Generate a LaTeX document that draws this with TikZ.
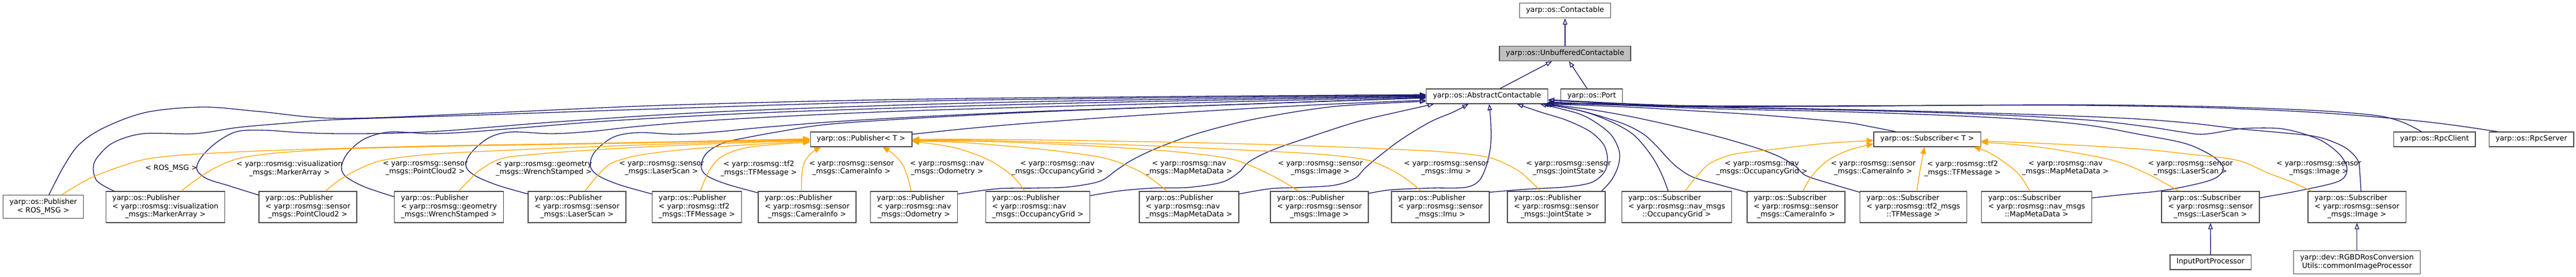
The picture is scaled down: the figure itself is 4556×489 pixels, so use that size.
\documentclass[tikz,border=0pt]{standalone}
\usepackage{fontspec}
\setmainfont{DejaVu Sans}
\usepackage{tikz}
\usetikzlibrary{arrows.meta}
\definecolor{inhblue}{HTML}{191970}
\definecolor{tplorange}{HTML}{FFA500}
\newcommand{\clsA}[1]{\begin{tabular}{@{}c@{}}#1\end{tabular}}
\newcommand{\clsB}[2]{\begin{tabular}{@{}l@{}}#1\\\multicolumn{1}{@{}c@{}}{#2}\end{tabular}}
\newcommand{\clsC}[3]{\begin{tabular}{@{}l@{}}#1\\#2\\\multicolumn{1}{@{}c@{}}{#3}\end{tabular}}
\def\pubname{yarp::os::Publisher}
\def\subname{yarp::os::Subscriber}

\begin{document}
\begin{tikzpicture}[x=1pt,y=-1pt,
		cls/.style={draw=black!70,line width=1.3pt,fill=white,inner xsep=11.5pt,inner ysep=5.75pt,font=\fontsize{12.8}{14.5}\selectfont},
		lbl/.style={inner sep=0pt,align=center,font=\fontsize{12.8}{14.5}\selectfont},
		inh/.style={inhblue,line width=1.3pt,-{Triangle[open,length=11pt,width=8pt]}},
		tpl/.style={tplorange,line width=1.3pt,-{Triangle[length=12pt,width=10pt]}}]
			%%%%% START %%%%%
			\fill[white] (0,0) rectangle (4556,489);
			\useasboundingbox (0,0) rectangle (4556,489);
			
			% upper classes
			\node[cls] (contact) at (2768,18.7) {\clsA{yarp::os::Contactable}};
			\node[cls,fill=black!25] (unbuf) at (2768,94.5) {\clsA{yarp::os::UnbufferedContactable}};
			\node[cls] (ac) at (2630,170) {\clsA{yarp::os::AbstractContactable}};
			\node[cls] (port) at (2815,170) {\clsA{yarp::os::Port}};
			\node[cls] (pubt) at (1523,246) {\clsA{yarp::os::Publisher< T >}};
			\node[cls] (subt) at (3408.6,246) {\clsA{yarp::os::Subscriber< T >}};
			\node[cls] (rpcclient) at (4305.7,246) {\clsA{yarp::os::RpcClient}};
			\node[cls] (rpcserver) at (4477,246) {\clsA{yarp::os::RpcServer}};
			
			% publishers
			\node[cls] (pubros) at (76.5,365) {\clsB{\pubname}{< ROS\_MSG >}};
			\node[cls] (pubmarker) at (292.5,365.5) {\clsC{\pubname}{< yarp::rosmsg::visualization}{\_msgs::MarkerArray >}};
			\node[cls] (pubpc2) at (544.5,365.5) {\clsC{\pubname}{< yarp::rosmsg::sensor}{\_msgs::PointCloud2 >}};
			\node[cls] (pubwrench) at (794,365.5) {\clsC{\pubname}{< yarp::rosmsg::geometry}{\_msgs::WrenchStamped >}};
			\node[cls] (publaser) at (1020.5,365.5) {\clsC{\pubname}{< yarp::rosmsg::sensor}{\_msgs::LaserScan >}};
			\node[cls] (pubtf) at (1232.5,365.5) {\clsC{\pubname}{< yarp::rosmsg::tf2}{\_msgs::TFMessage >}};
			\node[cls] (pubcam) at (1427.5,365.5) {\clsC{\pubname}{< yarp::rosmsg::sensor}{\_msgs::CameraInfo >}};
			\node[cls] (pubodom) at (1616.5,365.5) {\clsC{\pubname}{< yarp::rosmsg::nav}{\_msgs::Odometry >}};
			\node[cls] (pubocc) at (1835.5,365.5) {\clsC{\pubname}{< yarp::rosmsg::nav}{\_msgs::OccupancyGrid >}};
			\node[cls] (pubmap) at (2103,365.5) {\clsC{\pubname}{< yarp::rosmsg::nav}{\_msgs::MapMetaData >}};
			\node[cls] (pubimage) at (2333.6,365.5) {\clsC{\pubname}{< yarp::rosmsg::sensor}{\_msgs::Image >}};
			\node[cls] (pubimu) at (2547.5,365.5) {\clsC{\pubname}{< yarp::rosmsg::sensor}{\_msgs::Imu >}};
			\node[cls] (pubjoint) at (2752.5,365.5) {\clsC{\pubname}{< yarp::rosmsg::sensor}{\_msgs::JointState >}};
			
			% subscribers
			\node[cls] (subocc) at (2965.5,365.5) {\clsC{\subname}{< yarp::rosmsg::nav\_msgs}{::OccupancyGrid >}};
			\node[cls] (subcam) at (3176.6,365.5) {\clsC{\subname}{< yarp::rosmsg::sensor}{\_msgs::CameraInfo >}};
			\node[cls] (subtf) at (3384,365.5) {\clsC{\subname}{< yarp::rosmsg::tf2\_msgs}{::TFMessage >}};
			\node[cls] (submap) at (3602,365.5) {\clsC{\subname}{< yarp::rosmsg::nav\_msgs}{::MapMetaData >}};
			\node[cls] (sublaser) at (3909.5,365.5) {\clsC{\subname}{< yarp::rosmsg::sensor}{\_msgs::LaserScan >}};
			\node[cls] (subimage) at (4168.6,365.5) {\clsC{\subname}{< yarp::rosmsg::sensor}{\_msgs::Image >}};
			
			% lowest row
			\node[cls] (inproc) at (3909.6,463) {\clsA{InputPortProcessor}};
			\node[cls] (imgproc) at (4168.6,463) {\clsB{yarp::dev::RGBDRosConversion}{Utils::commonImageProcessor}};
			
			% template labels
			\node[lbl] (lros) at (303,297.5) {< ROS\_MSG >};
			\node[lbl] (lmarker) at (512,297.5) {< yarp::rosmsg::visualization\\\_msgs::MarkerArray >};
			\node[lbl] (lpc2) at (752,297.5) {< yarp::rosmsg::sensor\\\_msgs::PointCloud2 >};
			\node[lbl] (lwrench) at (962,297.5) {< yarp::rosmsg::geometry\\\_msgs::WrenchStamped >};
			\node[lbl] (llaser) at (1170,297.5) {< yarp::rosmsg::sensor\\\_msgs::LaserScan >};
			\node[lbl] (ltf) at (1342,297.5) {< yarp::rosmsg::tf2\\\_msgs::TFMessage >};
			\node[lbl] (lcam) at (1506,297.5) {< yarp::rosmsg::sensor\\\_msgs::CameraInfo >};
			\node[lbl] (lodom) at (1675,297.5) {< yarp::rosmsg::nav\\\_msgs::Odometry >};
			\node[lbl] (locc) at (1870,297.5) {< yarp::rosmsg::nav\\\_msgs::OccupancyGrid >};
			\node[lbl] (lmap) at (2103,297.5) {< yarp::rosmsg::nav\\\_msgs::MapMetaData >};
			\node[lbl] (limage) at (2335,297.5) {< yarp::rosmsg::sensor\\\_msgs::Image >};
			\node[lbl] (limu) at (2558,297.5) {< yarp::rosmsg::sensor\\\_msgs::Imu >};
			\node[lbl] (ljoint) at (2774,297.5) {< yarp::rosmsg::sensor\\\_msgs::JointState >};
			\node[lbl] (lsocc) at (3116,297.5) {< yarp::rosmsg::nav\\\_msgs::OccupancyGrid >};
			\node[lbl] (lscam) at (3313,297.5) {< yarp::rosmsg::sensor\\\_msgs::CameraInfo >};
			\node[lbl] (lstf) at (3471,297.5) {< yarp::rosmsg::tf2\\\_msgs::TFMessage >};
			\node[lbl] (lsmap) at (3653,297.5) {< yarp::rosmsg::nav\\\_msgs::MapMetaData >};
			\node[lbl] (lslaser) at (3874,297.5) {< yarp::rosmsg::sensor\\\_msgs::LaserScan >};
			\node[lbl] (lsimage) at (4101,297.5) {< yarp::rosmsg::sensor\\\_msgs::Image >};
			
			% straight inheritance
			\draw[inh] (unbuf) -- (contact);
			\draw[inh] ([xshift=23pt]ac.north) -- ([xshift=-23pt]unbuf.south);
			\draw[inh] ([xshift=-8pt]port.north) -- ([xshift=7pt]unbuf.south);
			\draw[inh] (inproc) -- (sublaser);
			\draw[inh] (imgproc) -- (subimage);
			
			% inheritance into the left side of AbstractContactable
			\draw[inh] plot[smooth,tension=.55] coordinates {([xshift=10pt]pubros.north) (112,295) (140,255) (185,225) (260,198) (360,189) (460,197) (600,209) (850,200) (1200,185) (1700,174) ([yshift=3pt]ac.west)};
			\draw[inh] plot[smooth,tension=.55] coordinates {([xshift=15pt]pubmarker.north west) (172,320) (165,297) (172,278) (200,252) (253,236) (344,236) (421,225) (500,218) (600,211) (850,203) (1200,191) (1700,177) ([yshift=2pt]ac.west)};
			\draw[inh] plot[smooth,tension=.55] coordinates {([yshift=-7pt]pubpc2.north west) (405,328) (365,315) (348,298) (358,275) (385,250) (420,232) (470,230) (530,234) (600,236) (700,235) (800,230) (1000,214) (1300,196) (1800,180) ([yshift=1pt]ac.west)};
			\draw[inh] plot[smooth,tension=.55] coordinates {([yshift=-10pt]pubwrench.north west) (645,330) (612,312) (604,295) (615,270) (645,245) (690,233) (760,236) (830,233) (930,225) (1100,212) (1400,197) (1900,182) (ac.west)};
			\draw[inh] plot[smooth,tension=.55] coordinates {([yshift=-5pt]publaser.north west) (880,327) (840,310) (824,293) (833,270) (865,243) (905,233) (975,236) (1045,232) (1140,222) (1300,210) (1600,196) (2050,183) ([yshift=-1pt]ac.west)};
			\draw[inh] plot[smooth,tension=.55] coordinates {([yshift=-5pt]pubtf.north west) (1095,326) (1058,310) (1044,293) (1052,268) (1085,242) (1130,234) (1195,237) (1265,233) (1360,224) (1520,212) (1800,198) (2200,184) ([yshift=-2pt]ac.west)};
			\draw[inh] plot[smooth,tension=.55] coordinates {([yshift=-3pt]pubcam.north west) (1285,325) (1250,310) (1240,293) (1250,270) (1280,252) (1320,243) (1380,232) (1460,220) (1600,210) (1850,197) (2200,184) ([yshift=-3pt]ac.west)};
			\draw[inh] plot[smooth,tension=.55] coordinates {([yshift=9pt]pubt.east) (1700,228) (1800,219) (1950,208) (2150,195) (2350,184) ([yshift=-7pt]ac.west)};
			\draw[inh] plot[smooth,tension=.55] coordinates {([yshift=-5pt]pubodom.north east) (1766,333) (1830,332) (1890,330) (1945,320) (1975,300) (2003,282) (2050,260) (2120,235) (2220,210) (2360,188) ([yshift=-9pt]ac.west)};
			
			% inheritance into the bottom of AbstractContactable
			\draw[inh] plot[smooth,tension=.55] coordinates {([yshift=-8pt]pubocc.north east) (1980,337) (2040,332) (2100,331) (2160,322) (2190,305) (2210,285) (2250,265) (2310,244) (2400,215) (2480,196) ([xshift=14pt]ac.south west)};
			\draw[inh] plot[smooth,tension=.55] coordinates {([yshift=-5pt]pubmap.north east) (2248,333) (2300,331) (2360,327) (2396,315) (2415,296) (2440,275) (2480,245) (2530,215) (2570,198) ([xshift=75pt]ac.south west)};
			\draw[inh] plot[smooth,tension=.55] coordinates {([yshift=-4pt]pubimage.north east) (2461,335) (2530,332) (2590,331) (2615,320) (2628,295) (2636,260) (2637,225) ([xshift=4pt]ac.south)};
			\draw[inh] plot[smooth,tension=.55] coordinates {([yshift=-2pt]pubimu.north east) (2700,334) (2770,330) (2815,322) (2838,303) (2843,280) (2836,255) (2812,232) (2770,212) (2725,198) ([xshift=53pt]ac.south)};
			\draw[inh] plot[smooth,tension=.55] coordinates {([xshift=-7pt]pubjoint.north east) (2850,318) (2862,293) (2864,268) (2851,240) (2825,218) (2790,200) ([xshift=-14pt]ac.south east)};
			\draw[inh] plot[smooth,tension=.55] coordinates {([xshift=-15pt]subocc.north) (2940,310) (2926,283) (2908,258) (2888,237) (2860,220) (2820,203) (2780,192) ([xshift=-10pt]ac.south east)};
			\draw[inh] plot[smooth,tension=.55] coordinates {([yshift=-2pt]subcam.north west) (3040,326) (2995,313) (2970,298) (2953,283) (2930,258) (2907,237) (2875,220) (2830,205) (2785,193) ([xshift=-6pt]ac.south east)};
			\draw[inh] plot[smooth,tension=.55] coordinates {([yshift=-2pt]subtf.north west) (3240,325) (3194,310) (3175,293) (3150,278) (3118,265) (3070,250) (3022,237) (2950,220) (2880,205) (2810,193) ([xshift=-3pt]ac.south east)};
			\draw[inh] plot[smooth,tension=.55] coordinates {([xshift=-56pt]subt.north) (3310,224) (3271,217) (3200,210) (3100,202) (3000,196) (2900,190) (2810,186) (ac.south east)};
			
			% inheritance from the far right
			\draw[inh] plot[smooth,tension=.55] coordinates {([yshift=-12pt]submap.north east) (3760,343) (3821,337) (3880,326) (3917,315) (3932,300) (3925,285) (3900,268) (3860,252) (3783,237) (3700,222) (3600,212) (3450,204) (3250,197) (3000,191) ([yshift=-10pt]ac.east)};
			\draw[inh] plot[smooth,tension=.55] coordinates {([yshift=-12pt]sublaser.north east) (4070,336) (4136,320) (4151,300) (4140,275) (4109,250) (4070,235) (4033,227) (3990,226) (3956,228) (3897,237) (3859,233) (3800,224) (3706,213) (3580,205) (3400,198) (3200,193) (2970,188) ([yshift=-11pt]ac.east)};
			\draw[inh] plot[smooth,tension=.55] coordinates {([xshift=7pt]subimage.north) (4174,310) (4170,283) (4150,262) (4120,248) (4090,240) (4033,234) (3956,227) (3880,218) (3780,210) (3620,203) (3420,197) (3200,192) (2970,188) ([yshift=-12pt]ac.east)};
			\draw[inh] plot[smooth,tension=.55] coordinates {([xshift=-23pt]rpcclient.north) (4250,216) (4210,205) (4140,198) (4050,193) (3900,188) (3680,185) (3450,186) (3200,188) (2960,187) ([yshift=-7pt]ac.east)};
			\draw[inh] plot[smooth,tension=.55] coordinates {([xshift=-60pt]rpcserver.north) (4340,221) (4262,212) (4160,203) (4050,196) (3900,190) (3680,186) (3450,186) (3200,187) (2960,186) ([yshift=-6pt]ac.east)};
			
			% template instances of Publisher< T >
			\draw[tpl] plot[smooth,tension=.55] coordinates {([xshift=32.5pt]pubros.north) (135,328) (165,312) (210,295) (253,282) (305,275) (364,271) (470,266) (600,262) (800,257) (1100,252) ([yshift=1pt]pubt.west)};
			\draw[tpl] plot[smooth,tension=.55] coordinates {([xshift=28pt]pubmarker.north) (350,315) (383,295) (421,280) (470,272) (530,267) (600,263) (800,258) (1100,253) (pubt.west)};
			\draw[tpl] plot[smooth,tension=.55] coordinates {([xshift=31pt]pubpc2.north) (600,318) (638,297) (677,283) (753,273) (880,266) (1050,259) (1250,252) ([yshift=-1pt]pubt.west)};
			\draw[tpl] plot[smooth,tension=.55] coordinates {([xshift=17pt]pubwrench.north) (830,318) (849,300) (887,280) (950,272) (1030,266) (1130,260) (1260,254) ([yshift=-2pt]pubt.west)};
			\draw[tpl] plot[smooth,tension=.55] coordinates {([xshift=14pt]publaser.north) (1055,312) (1078,290) (1105,280) (1136,273) (1200,265) (1300,257) ([yshift=-3pt]pubt.west)};
			\draw[tpl] plot[smooth,tension=.55] coordinates {([xshift=6pt]pubtf.north) (1255,300) (1276,277) (1314,262) (1370,255) ([yshift=-5pt]pubt.west)};
			\draw[tpl] plot[smooth,tension=.55] coordinates {([xshift=-10pt]pubcam.north) (1418,312) (1422,288) (1434,271) ([xshift=-71pt]pubt.south)};
			\draw[tpl] plot[smooth,tension=.55] coordinates {([xshift=-5pt]pubodom.north) (1605,312) (1596,290) (1580,272) ([xshift=38pt]pubt.south)};
			\draw[tpl] plot[smooth,tension=.55] coordinates {([xshift=-23pt]pubocc.north) (1790,310) (1750,283) (1697,263) (1650,254) ([yshift=-4pt]pubt.east)};
			\draw[tpl] plot[smooth,tension=.55] coordinates {([xshift=-39pt]pubmap.north) (2020,305) (1957,280) (1865,266) (1760,256) (1690,251) ([yshift=-3pt]pubt.east)};
			\draw[tpl] plot[smooth,tension=.55] coordinates {([xshift=-37pt]pubimage.north) (2250,310) (2183,282) (2100,270) (2000,262) (1880,255) (1750,250) ([yshift=-2pt]pubt.east)};
			\draw[tpl] plot[smooth,tension=.55] coordinates {([xshift=-34pt]pubimu.north) (2490,318) (2461,300) (2415,282) (2330,272) (2200,265) (2050,258) (1880,252) (1740,248) ([yshift=-1pt]pubt.east)};
			\draw[tpl] plot[smooth,tension=.55] coordinates {([xshift=-27.5pt]pubjoint.north) (2705,318) (2683,300) (2633,278) (2550,268) (2430,262) (2300,257) (2120,252) (1900,248) (1740,246) (pubt.east)};
			
			% template instances of Subscriber< T >
			\draw[tpl] plot[smooth,tension=.55] coordinates {([xshift=15pt]subocc.north) (3000,312) (3022,290) (3050,277) (3080,270) (3150,262) (3230,253) ([yshift=-2pt]subt.west)};
			\draw[tpl] plot[smooth,tension=.55] coordinates {([xshift=12pt]subcam.north) (3205,310) (3233,283) (3270,265) ([yshift=-8pt]subt.west)};
			\draw[tpl] plot[smooth,tension=.55] coordinates {([xshift=6pt]subtf.north) (3396,300) ([xshift=-5pt]subt.south)};
			\draw[tpl] plot[smooth,tension=.55] coordinates {([xshift=-12pt]submap.north) (3570,307) (3540,283) (3515,268) ([xshift=-13pt]subt.south east)};
			\draw[tpl] plot[smooth,tension=.55] coordinates {([xshift=-56pt]sublaser.north) (3800,308) (3737,283) (3630,263) (3560,255) ([yshift=-5pt]subt.east)};
			\draw[tpl] plot[smooth,tension=.55] coordinates {([xshift=-80pt]subimage.north) (4050,320) (4010,305) (3957,283) (3870,272) (3783,263) (3650,255) (3560,251) ([yshift=-3pt]subt.east)};
			%%%%% END %%%%%
		\end{tikzpicture}
\end{document}
